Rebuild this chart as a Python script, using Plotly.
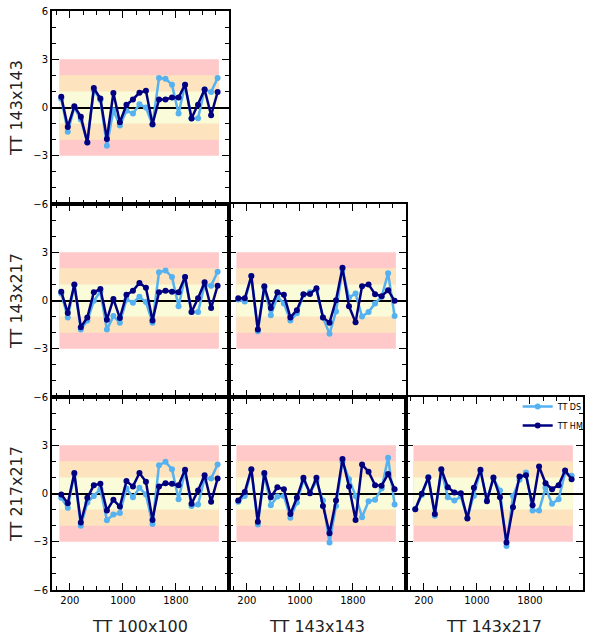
import plotly.graph_objects as go
from plotly.subplots import make_subplots

"""Lower-triangle grid of TT residuals, DS vs HM, one panel per spectrum pair"""

ELL = [70, 168, 267, 365, 463, 561, 660, 758, 856, 954, 1053, 1151, 1249,
       1347, 1446, 1544, 1642, 1740, 1839, 1937, 2035, 2133, 2232, 2330, 2428]

X_LABELS = ["TT 100x100", "TT 143x143", "TT 143x217"]
Y_LABELS = ["TT 143x143", "TT 143x217", "TT 217x217"]
X_TICKS = [200, 1000, 1800]
Y_TICKS = [-6, -3, 0, 3, 6]

# sigma bands, drawn from the widest to the narrowest
BAND_X = [43, 2447]
SIGMA_LEVELS = [3, 2, 1]
BAND_COLORS = ["#ffc9c9", "#fde4be", "#fafbd9"]

DS_COLOR = "#56b1f0"
HM_COLOR = "#000080"

# row 1: 143x143 vs 100x100
ds_r1c1 = [0.54, -1.5, 0.0, -0.75, -2.17, 1.08, 0.46, -2.38, -0.17, -1.12, -0.2, -0.38, 0.2,
           0.0, -1.08, 1.83, 1.79, 1.42, -0.38, 1.42, -0.69, -0.67, 1.12, 0.96, 1.83]
hm_r1c1 = [0.67, -1.21, 0.08, -0.58, -2.17, 1.21, 0.56, -1.96, 0.9, -0.92, 0.17, 0.5, 0.92,
           1.04, -1.04, 0.5, 0.5, 0.62, 0.62, 1.42, -0.69, 0.17, 1.12, -0.48, 0.96]

# row 2: 143x217 vs 100x100, 143x143
ds_r2c1 = [0.43, -1.05, 0.96, -1.81, -1.25, -0.02, 0.55, -1.81, -0.97, -1.38, 0.06, -0.14, 0.23,
           -0.1, -1.38, 1.75, 1.87, 1.46, -0.35, 1.46, -0.72, -0.72, 0.96, 0.92, 1.79]
hm_r2c1 = [0.55, -0.78, 1.0, -1.66, -1.05, 0.51, 0.72, -1.19, 0.1, -1.09, 0.35, 0.6, 1.09,
           0.8, -1.25, 0.51, 0.6, 0.55, 0.51, 1.46, -0.72, 0.14, 1.13, -0.47, 0.92]
ds_r2c2 = [0.06, -0.06, 1.52, -1.91, 0.8, -0.92, 0.23, -0.18, -1.25, -0.8, 0.35, 0.51, 0.68,
           -1.05, -2.07, -0.68, 1.95, 0.18, 0.43, -1.0, -0.72, -0.18, 0.23, 1.7, -0.97]
hm_r2c2 = [0.14, 0.14, 1.52, -1.81, 0.88, -0.47, 0.51, 0.35, -1.05, -0.6, 0.39, 0.41, 0.76,
           -1.05, -1.38, 0.02, 2.03, -0.35, -1.36, 0.88, 1.0, 0.39, 0.27, 0.64, -0.02]

# row 3: 217x217 vs 100x100, 143x143, 143x217
ds_r3c1 = [-0.27, -0.89, 1.22, -2.01, -0.56, -0.15, 0.27, -1.66, -1.31, -1.22, 0.31, -0.23, 0.35,
           -0.06, -1.89, 1.76, 1.97, 1.51, -0.35, 1.39, -0.77, -0.68, 0.93, 0.93, 1.8]
hm_r3c1 = [-0.06, -0.6, 1.27, -1.8, -0.27, 0.52, 0.6, -1.06, -0.39, -0.81, 0.77, 0.44, 1.27,
           0.73, -1.64, 0.44, 0.64, 0.6, 0.52, 1.47, -0.64, 0.19, 1.14, -0.52, 0.93]
ds_r3c2 = [-0.52, -0.15, 1.47, -1.93, 1.18, -0.73, -0.19, -0.15, -1.51, -0.56, 0.85, 0.02, 0.77,
           -0.44, -3.05, -0.77, 1.97, 0.89, -0.15, -1.47, -0.48, -0.39, 0.31, 2.22, -0.68]
hm_r3c2 = [-0.44, 0.1, 1.51, -1.76, 1.27, -0.23, 0.39, 0.27, -1.27, -0.27, 0.98, 0.02, 0.98,
           -0.77, -2.47, -0.44, 2.14, 0.44, -1.64, 1.8, 1.35, 0.52, 0.48, 1.22, 0.27]
ds_r3c3 = [-0.98, -0.1, 1.02, -1.39, 1.43, -0.23, -0.44, -0.19, -1.51, -0.15, 1.39, -0.39, 0.93,
           0.19, -3.26, -0.15, 0.85, 1.31, -1.06, -1.06, 0.35, -0.64, -0.35, 1.31, 1.1]
hm_r3c3 = [-0.98, -0.02, 1.0, -1.27, 1.51, 0.39, 0.06, 0.02, -1.56, 0.35, 1.47, -0.48, 1.0,
           -0.23, -3.05, -0.85, 1.06, 1.14, -0.73, 1.68, 0.64, 0.27, 0.52, 1.43, 0.89]

PANELS = {
    (1, 1): (ds_r1c1, hm_r1c1),
    (2, 1): (ds_r2c1, hm_r2c1),
    (2, 2): (ds_r2c2, hm_r2c2),
    (3, 1): (ds_r3c1, hm_r3c1),
    (3, 2): (ds_r3c2, hm_r3c2),
    (3, 3): (ds_r3c3, hm_r3c3),
}

FONT = "DejaVu Sans"

fig = make_subplots(
    rows=3,
    cols=3,
    horizontal_spacing=0,
    vertical_spacing=0,
    specs=[[{}, None, None], [{}, {}, None], [{}, {}, {}]],
)

for (row, col), (ds, hm) in PANELS.items():
    for level, color in zip(SIGMA_LEVELS, BAND_COLORS):
        fig.add_shape(
            type="rect",
            x0=BAND_X[0], x1=BAND_X[1], y0=-level, y1=level,
            fillcolor=color, line_width=0, layer="below",
            row=row, col=col,
        )

    show = (row, col) == (3, 3)
    for name, values, color in (("TT DS", ds, DS_COLOR), ("TT HM", hm, HM_COLOR)):
        fig.add_trace(
            go.Scatter(
                x=ELL, y=values, name=name, mode="lines+markers",
                line=dict(color=color, width=2.5),
                marker=dict(color=color, size=6),
                showlegend=show,
            ),
            row=row, col=col,
        )

    # axes: inward ticks on all four sides, labels only on the outer edge
    fig.update_xaxes(
        range=[-70, 2600], showgrid=False, zeroline=False, automargin=False,
        showline=True, linecolor="black", linewidth=2, mirror="ticks",
        ticks="inside", ticklen=7, tickwidth=1.2, tickcolor="black",
        tickmode="array", tickvals=X_TICKS,
        minor=dict(ticks="inside", ticklen=4, tickwidth=1, tickcolor="black",
                   tickmode="linear", tick0=200, dtick=200),
        showticklabels=(row == 3),
        tickfont=dict(size=10, color="black"),
        row=row, col=col,
    )
    fig.update_yaxes(
        range=[-6, 6], showgrid=False, automargin=False,
        zeroline=True, zerolinecolor="black", zerolinewidth=2,
        showline=True, linecolor="black", linewidth=2, mirror="ticks",
        ticks="inside", ticklen=7, tickwidth=1.2, tickcolor="black",
        tickmode="array", tickvals=Y_TICKS,
        ticktext=["−6", "−3", "0", "3", "6" if row == 1 else ""],
        minor=dict(ticks="inside", ticklen=4, tickwidth=1, tickcolor="black", dtick=1),
        showticklabels=(col == 1),
        tickfont=dict(size=10, color="black"),
        row=row, col=col,
    )

for i, label in enumerate(X_LABELS):
    fig.update_xaxes(title=dict(text=label, font=dict(size=16, color="#222"), standoff=18),
                     row=3, col=i + 1)
for i, label in enumerate(Y_LABELS):
    fig.update_yaxes(title=dict(text=label, font=dict(size=16, color="#222"), standoff=7),
                     row=i + 1, col=1)

fig.update_layout(
    width=598,
    height=636,
    margin=dict(l=52, r=8, t=11, b=46),
    paper_bgcolor="white",
    plot_bgcolor="rgba(0,0,0,0)",
    font=dict(family=FONT, color="black"),
    showlegend=True,
    legend=dict(
        x=0.877, y=0.342, xanchor="left", yanchor="top",
        bgcolor="rgba(0,0,0,0)", font=dict(size=8),
        itemwidth=30, tracegroupgap=0,
    ),
)

# the page body has a default margin; drop it so the figure sits at the corner
fig.write_html(
    "out.html",
    config={"displayModeBar": False},
    post_script="document.body.style.margin = '0';",
)
